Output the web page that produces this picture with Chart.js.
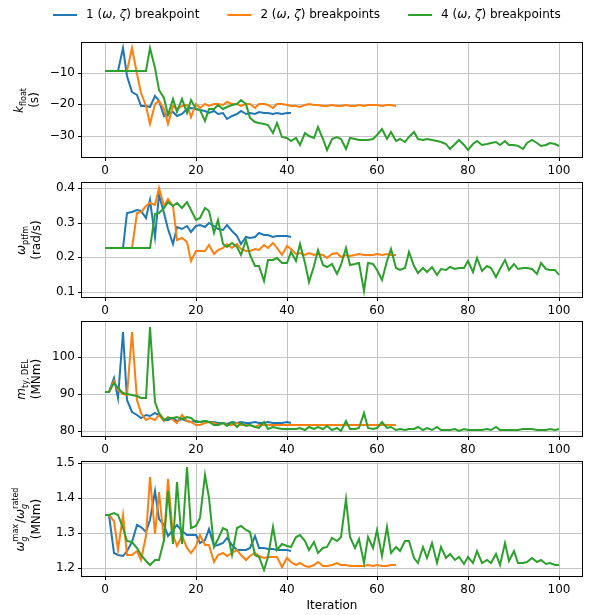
<!DOCTYPE html>
<html>
<head>
<meta charset="utf-8">
<title>Breakpoint optimisation history</title>
<script src="https://cdn.jsdelivr.net/npm/chart.js@4.4.1/dist/chart.umd.min.js"></script>
<style>
  body { margin: 0; background: #fff; }
  #wrap { position: relative; width: 600px; height: 615px; overflow: hidden; background: #fff; }
  canvas { position: absolute; left: 0; }
</style>
</head>
<body>
<div id="wrap">
  <canvas id="kFloatChart" width="600" height="179" style="top:0px"></canvas>
  <canvas id="omegaPtfmChart" width="600" height="149" style="top:170px"></canvas>
  <canvas id="mtyChart" width="600" height="149" style="top:309px"></canvas>
  <canvas id="omegaGChart" width="600" height="166" style="top:449px"></canvas>
</div>
<script>
//iteration axis, shared by every panel
const iterationRange = [-5, 105];
const iterationTicks = [0, 20, 40, 60, 80, 100];

//one name per run
const seriesNames = ['1 (ω, ζ) breakpoint', '2 (ω, ζ) breakpoints', '4 (ω, ζ) breakpoints'];

//k_float (s)
const kFloat1 = [-9.5, -9.5, -9.5, -9.5, -2.2, -11.0, -16.0, -17.0, -20.5, -20.5,
  -20.8, -17.5, -18.8, -23.7, -23.0, -22.5, -23.5, -23.0, -21.3, -21.0,
  -21.3, -21.8, -22.0, -22.7, -22.0, -23.0, -22.8, -24.7, -23.7, -23.0,
  -22.0, -23.0, -22.8, -23.0, -22.3, -22.8, -22.7, -23.0, -22.8, -23.0,
  -22.6, -22.6];
const kFloat2 = [-9.5, -9.5, -9.5, -9.5, -9.5, -9.5, -2.2, -10.5, -16.5, -20.5,
  -26.0, -20.0, -18.8, -21.5, -26.2, -20.5, -21.5, -20.5, -20.2, -23.8,
  -20.0, -21.0, -20.0, -20.5, -19.7, -20.0, -20.3, -19.3, -20.0, -19.7,
  -20.5, -19.7, -20.0, -21.0, -20.0, -19.7, -20.3, -21.0, -20.0, -20.0,
  -20.2, -20.4, -20.5, -20.8, -20.3, -19.9, -20.3, -20.2, -20.4, -20.4,
  -20.2, -20.4, -20.4, -20.3, -20.5, -20.4, -20.3, -20.4, -20.3, -20.3,
  -20.3, -20.4, -20.3, -20.2, -20.4];
const kFloat4 = [-9.5, -9.5, -9.5, -9.5, -9.5, -9.5, -9.5, -9.5, -9.5, -9.5,
  -2.2, -8.7, -15.5, -18.0, -23.4, -18.2, -22.3, -18.2, -22.8, -18.5,
  -21.3, -21.8, -25.2, -21.3, -21.5, -20.2, -21.3, -20.7, -20.2, -19.7,
  -18.5, -19.7, -24.4, -25.5, -25.8, -26.0, -26.5, -29.1, -25.8, -30.2,
  -30.4, -31.4, -30.4, -32.8, -29.1, -30.0, -30.4, -27.0, -30.7, -34.3,
  -31.0, -30.2, -31.0, -34.1, -30.5, -30.9, -31.1, -31.3, -31.1, -30.9,
  -29.6, -27.6, -31.0, -28.6, -31.4, -30.7, -31.7, -30.3, -28.6, -30.7,
  -31.2, -30.9, -31.2, -31.6, -31.8, -32.5, -34.1, -32.4, -31.1, -32.8,
  -34.3, -32.3, -31.6, -32.6, -32.4, -32.2, -31.9, -32.6, -31.6, -32.8,
  -32.7, -33.0, -34.1, -32.2, -31.1, -32.1, -33.2, -32.6, -32.0, -32.5,
  -32.9];
const kFloatRange = [-36.5, -0.7];
const kFloatTicks = [-30, -20, -10];

//omega_ptfm (rad/s)
const omegaPtfm1 = [0.228, 0.228, 0.228, 0.228, 0.228, 0.328, 0.330, 0.337, 0.333, 0.313,
  0.366, 0.258, 0.379, 0.329, 0.281, 0.237, 0.289, 0.283, 0.291, 0.274,
  0.291, 0.294, 0.289, 0.298, 0.291, 0.281, 0.279, 0.293, 0.276, 0.262,
  0.237, 0.258, 0.257, 0.260, 0.269, 0.264, 0.264, 0.259, 0.261, 0.261,
  0.262, 0.259];
const omegaPtfm2 = [0.228, 0.228, 0.228, 0.228, 0.228, 0.228, 0.228, 0.328, 0.330, 0.347,
  0.357, 0.352, 0.400, 0.347, 0.369, 0.347, 0.250, 0.257, 0.245, 0.189,
  0.218, 0.218, 0.218, 0.236, 0.209, 0.221, 0.228, 0.238, 0.228, 0.238,
  0.224, 0.218, 0.218, 0.224, 0.221, 0.236, 0.228, 0.241, 0.226, 0.207,
  0.234, 0.224, 0.209, 0.212, 0.207, 0.211, 0.207, 0.209, 0.207, 0.199,
  0.209, 0.211, 0.202, 0.207, 0.205, 0.207, 0.209, 0.207, 0.207, 0.207,
  0.209, 0.207, 0.209, 0.207, 0.207];
const omegaPtfm4 = [0.228, 0.228, 0.228, 0.228, 0.228, 0.228, 0.228, 0.228, 0.228, 0.228,
  0.228, 0.325, 0.328, 0.342, 0.359, 0.347, 0.357, 0.342, 0.359, 0.337,
  0.308, 0.313, 0.342, 0.334, 0.270, 0.308, 0.238, 0.231, 0.241, 0.231,
  0.207, 0.250, 0.207, 0.176, 0.174, 0.130, 0.192, 0.192, 0.199, 0.182,
  0.182, 0.214, 0.189, 0.239, 0.182, 0.127, 0.175, 0.221, 0.178, 0.173,
  0.180, 0.151, 0.178, 0.228, 0.178, 0.180, 0.182, 0.103, 0.182, 0.180,
  0.163, 0.134, 0.190, 0.224, 0.168, 0.163, 0.170, 0.214, 0.175, 0.155,
  0.168, 0.157, 0.172, 0.148, 0.166, 0.163, 0.172, 0.166, 0.168, 0.168,
  0.189, 0.157, 0.198, 0.159, 0.175, 0.168, 0.144, 0.166, 0.192, 0.163,
  0.180, 0.166, 0.170, 0.170, 0.166, 0.151, 0.182, 0.166, 0.163, 0.163,
  0.148];
const omegaPtfmRange = [0.085, 0.415];
const omegaPtfmTicks = [0.1, 0.2, 0.3, 0.4];

//m_ty,DEL (MNm)
const mtyDel1 = [90.5, 90.5, 94.4, 89.1, 106.9, 88.5, 85.3, 84.5, 83.5, 84.4,
  84.2, 84.8, 84.4, 83.0, 83.0, 83.5, 82.7, 83.3, 82.7, 82.5,
  82.7, 82.5, 82.7, 82.4, 82.5, 82.1, 82.3, 82.0, 82.5, 82.2,
  82.4, 82.1, 82.3, 82.6, 82.1, 82.3, 82.4, 82.1, 82.2, 82.3,
  82.4, 82.3];
const mtyDel2 = [90.5, 90.5, 93.5, 91.2, 90.0, 89.8, 106.9, 88.5, 84.8, 83.0,
  83.5, 83.0, 84.4, 82.7, 83.9, 83.0, 82.1, 84.4, 82.7, 82.5,
  81.6, 81.8, 82.1, 82.5, 82.1, 81.6, 82.1, 81.6, 81.8, 82.1,
  81.6, 81.8, 81.6, 81.2, 81.8, 81.6, 81.6, 81.8, 81.6, 81.6,
  81.6, 81.7, 81.6, 81.8, 81.7, 81.6, 81.7, 81.8, 81.6, 81.7,
  81.7, 81.6, 81.8, 81.7, 81.7, 81.6, 81.7, 81.8, 81.7, 81.7,
  81.6, 81.7, 81.7, 81.8, 81.7];
const mtyDel4 = [90.5, 90.5, 93.0, 91.6, 90.3, 90.0, 89.8, 89.6, 89.1, 88.9,
  108.2, 87.8, 84.8, 83.0, 83.5, 83.5, 83.9, 83.3, 83.9, 83.5,
  82.5, 82.4, 82.7, 82.5, 81.8, 81.6, 82.1, 81.5, 82.4, 81.2,
  82.1, 81.5, 81.6, 81.2, 80.9, 82.4, 80.7, 81.2, 80.9, 80.7,
  80.5, 80.5, 80.5, 80.9, 80.3, 81.2, 80.5, 81.2, 80.5, 81.3,
  80.3, 81.0, 80.1, 82.7, 80.7, 80.5, 80.8, 85.0, 80.8, 80.7,
  80.8, 82.4, 80.9, 81.2, 80.3, 80.7, 80.3, 80.5, 80.6, 81.1,
  80.3, 80.8, 80.3, 81.1, 80.3, 80.3, 80.4, 80.5, 80.1, 80.5,
  80.3, 80.4, 80.3, 80.3, 80.5, 80.3, 81.2, 80.3, 80.4, 80.4,
  80.3, 80.3, 80.5, 80.5, 80.5, 80.4, 80.3, 80.4, 80.5, 80.3,
  80.7];
const mtyRange = [78.7, 109.6];
const mtyTicks = [80, 90, 100];

//omega_g max / omega_g rated
const omegaG1 = [1.353, 1.353, 1.243, 1.237, 1.234, 1.248, 1.275, 1.323, 1.317, 1.304,
  1.339, 1.422, 1.342, 1.325, 1.291, 1.308, 1.323, 1.306, 1.294, 1.294,
  1.296, 1.272, 1.282, 1.313, 1.265, 1.267, 1.272, 1.286, 1.267, 1.253,
  1.251, 1.253, 1.258, 1.291, 1.258, 1.258, 1.255, 1.255, 1.253, 1.253,
  1.253, 1.250];
const omegaG2 = [1.353, 1.353, 1.334, 1.253, 1.353, 1.238, 1.238, 1.248, 1.224, 1.291,
  1.460, 1.298, 1.418, 1.277, 1.456, 1.296, 1.265, 1.291, 1.259, 1.243,
  1.265, 1.296, 1.267, 1.267, 1.217, 1.238, 1.245, 1.235, 1.243, 1.253,
  1.238, 1.224, 1.235, 1.243, 1.235, 1.229, 1.233, 1.232, 1.232, 1.205,
  1.229, 1.219, 1.210, 1.214, 1.207, 1.205, 1.210, 1.219, 1.207, 1.207,
  1.210, 1.216, 1.210, 1.210, 1.207, 1.207, 1.207, 1.207, 1.210, 1.207,
  1.210, 1.207, 1.207, 1.210, 1.208];
const omegaG4 = [1.353, 1.353, 1.358, 1.353, 1.315, 1.278, 1.275, 1.257, 1.238, 1.221,
  1.208, 1.224, 1.224, 1.281, 1.420, 1.270, 1.445, 1.270, 1.490, 1.315,
  1.322, 1.345, 1.465, 1.400, 1.262, 1.285, 1.315, 1.310, 1.238, 1.315,
  1.322, 1.310, 1.305, 1.238, 1.232, 1.195, 1.233, 1.318, 1.253, 1.270,
  1.264, 1.262, 1.289, 1.296, 1.277, 1.253, 1.274, 1.243, 1.258, 1.262,
  1.286, 1.277, 1.289, 1.398, 1.289, 1.258, 1.283, 1.216, 1.289, 1.258,
  1.308, 1.235, 1.318, 1.243, 1.262, 1.248, 1.279, 1.279, 1.229, 1.216,
  1.262, 1.229, 1.272, 1.216, 1.262, 1.229, 1.241, 1.224, 1.233, 1.212,
  1.232, 1.216, 1.248, 1.216, 1.224, 1.214, 1.241, 1.210, 1.272, 1.222,
  1.248, 1.216, 1.216, 1.219, 1.229, 1.219, 1.224, 1.212, 1.216, 1.210,
  1.210];
const omegaGRange = [1.178, 1.5035];
const omegaGTicks = [1.2, 1.3, 1.4, 1.5];

//matplotlib tab10 colours for the three runs
const seriesColors = ['#1f77b4', '#ff7f0e', '#2ca02c'];
const FONT = '"DejaVu Sans"';

Chart.defaults.font.family = FONT;
Chart.defaults.font.size = 12;
Chart.defaults.color = '#000';

//draws a row of text pieces with optional italics, subscripts and superscripts
//returns the width so callers can centre it
function richText(ctx, parts, x, y, size, draw) {
  var cx = x;
  var small = Math.round(size * 0.7);
  parts.forEach(p => {
    if (p.t !== undefined) {
      ctx.font = (p.it ? 'italic ' : '') + size + 'px ' + FONT;
      if (draw) ctx.fillText(p.t, cx, y);
      cx += ctx.measureText(p.t).width;
    } else {
      var w = 0;
      if (p.sub) {
        ctx.font = (p.subIt ? 'italic ' : '') + small + 'px ' + FONT;
        if (draw) ctx.fillText(p.sub, cx, y + size * 0.3);
        w = ctx.measureText(p.sub).width;
      }
      if (p.sup) {
        ctx.font = small + 'px ' + FONT;
        if (draw) ctx.fillText(p.sup, cx, y - size * 0.42);
        w = Math.max(w, ctx.measureText(p.sup).width);
      }
      cx += w + 1;
    }
  });
  return cx - x;
}

//greek letters in the legend are set in italics like matplotlib mathtext
function splitGreek(label) {
  return label.split(/([ωζ])/).filter(s => s.length).map(s => ({t: s, it: /[ωζ]/.test(s)}));
}

//formats a tick with a real minus sign
function fmt(v, decimals) {
  return (v < 0 ? '\u2212' : '') + Math.abs(v).toFixed(decimals);
}

//black box round the plot area
const framePlugin = {
  id: 'frame',
  afterDatasetsDraw(chart) {
    var a = chart.chartArea;
    var ctx = chart.ctx;
    ctx.save();
    ctx.strokeStyle = '#000';
    ctx.lineWidth = 1;
    ctx.strokeRect(Math.round(a.left) - 0.5, Math.round(a.top) - 0.5,
      Math.round(a.right - a.left) + 1, Math.round(a.bottom - a.top) + 1);
    ctx.restore();
  }
};

//two line rotated y axis label
const yLabelPlugin = {
  id: 'yLabel',
  afterDraw(chart, args, opts) {
    var ctx = chart.ctx;
    var a = chart.chartArea;
    var cy = (a.top + a.bottom) / 2;
    ctx.save();
    ctx.fillStyle = '#000';
    ctx.textBaseline = 'middle';
    opts.lines.forEach((parts, n) => {
      var w = richText(ctx, parts, 0, 0, 12, false);
      ctx.save();
      ctx.translate(opts.x[n], cy);
      ctx.rotate(-Math.PI / 2);
      richText(ctx, parts, -w / 2, 0, 12, true);
      ctx.restore();
    });
    ctx.restore();
  }
};

//legend row above the first panel
const legendPlugin = {
  id: 'topLegend',
  afterDraw(chart) {
    var ctx = chart.ctx;
    var x = 53;
    var y = 15;
    chart.data.datasets.forEach(ds => {
      ctx.save();
      ctx.strokeStyle = ds.borderColor;
      ctx.lineWidth = 2;
      ctx.beginPath();
      ctx.moveTo(x, y);
      ctx.lineTo(x + 24, y);
      ctx.stroke();
      ctx.fillStyle = '#000';
      ctx.textBaseline = 'middle';
      var w = richText(ctx, splitGreek(ds.label), x + 33, y, 12, true);
      ctx.restore();
      x += 33 + w + 28;
    });
  }
};

function toPoints(values) {
  return values.map((v, i) => ({x: i, y: v}));
}

//builds one panel of the figure
function makePanel(id, series, yRange, yTicks, decimals, label, opts) {
  var datasets = series.map((vals, k) => ({
    label: seriesNames[k],
    data: toPoints(vals),
    borderColor: seriesColors[k],
    backgroundColor: seriesColors[k],
    borderWidth: 2,
    pointRadius: 0,
    tension: 0,
    fill: false,
    order: 2 - k
  }));

  var gridOpts = {color: '#c4c4c4', lineWidth: 1, tickLength: 4, tickColor: '#000', drawTicks: true};

  return new Chart(document.getElementById(id), {
    type: 'line',
    data: {datasets: datasets},
    options: {
      responsive: false,
      animation: false,
      events: [],
      layout: {padding: {top: opts.top, right: 18, left: 0, bottom: 0}},
      plugins: {
        legend: {display: false},
        tooltip: {enabled: false},
        yLabel: {lines: label, x: opts.labelX}
      },
      scales: {
        x: {
          type: 'linear',
          min: iterationRange[0],
          max: iterationRange[1],
          alignToPixels: true,
          afterBuildTicks: s => { s.ticks = iterationTicks.map(v => ({value: v})); },
          afterFit: s => { s.height = opts.xHeight; },
          grid: gridOpts,
          border: {display: false},
          ticks: {padding: 3, maxRotation: 0, autoSkip: false, callback: v => fmt(v, 0)},
          title: {display: opts.last, text: 'Iteration', padding: {top: 2, bottom: 2}}
        },
        y: {
          min: yRange[0],
          max: yRange[1],
          alignToPixels: true,
          afterBuildTicks: s => { s.ticks = yTicks.map(v => ({value: v})); },
          afterFit: s => { s.width = 82; },
          grid: gridOpts,
          border: {display: false},
          ticks: {padding: 3, autoSkip: false, callback: v => fmt(v, decimals)}
        }
      }
    },
    plugins: opts.legend ? [framePlugin, yLabelPlugin, legendPlugin] : [framePlugin, yLabelPlugin]
  });
}

makePanel('kFloatChart', [kFloat1, kFloat2, kFloat4], kFloatRange, kFloatTicks, 0,
  [[{t: 'k', it: true}, {sub: 'float'}], [{t: '(s)'}]],
  {top: 43, xHeight: 22, last: false, legend: true, labelX: [20, 35]});

makePanel('omegaPtfmChart', [omegaPtfm1, omegaPtfm2, omegaPtfm4], omegaPtfmRange, omegaPtfmTicks, 1,
  [[{t: 'ω', it: true}, {sub: 'ptfm'}], [{t: '(rad/s)'}]],
  {top: 13, xHeight: 22, last: false, legend: false, labelX: [22, 37]});

makePanel('mtyChart', [mtyDel1, mtyDel2, mtyDel4], mtyRange, mtyTicks, 0,
  [[{t: 'm', it: true}, {sub: 'ty, DEL'}], [{t: '(MNm)'}]],
  {top: 13, xHeight: 22, last: false, legend: false, labelX: [22, 37]});

makePanel('omegaGChart', [omegaG1, omegaG2, omegaG4], omegaGRange, omegaGTicks, 1,
  [[{t: 'ω', it: true}, {sub: 'g', subIt: true, sup: 'max'}, {t: '/'}, {t: 'ω', it: true}, {sub: 'g', subIt: true, sup: 'rated'}], [{t: '(MNm)'}]],
  {top: 13, xHeight: 39, last: true, legend: false, labelX: [21, 37]});
</script>
</body>
</html>
